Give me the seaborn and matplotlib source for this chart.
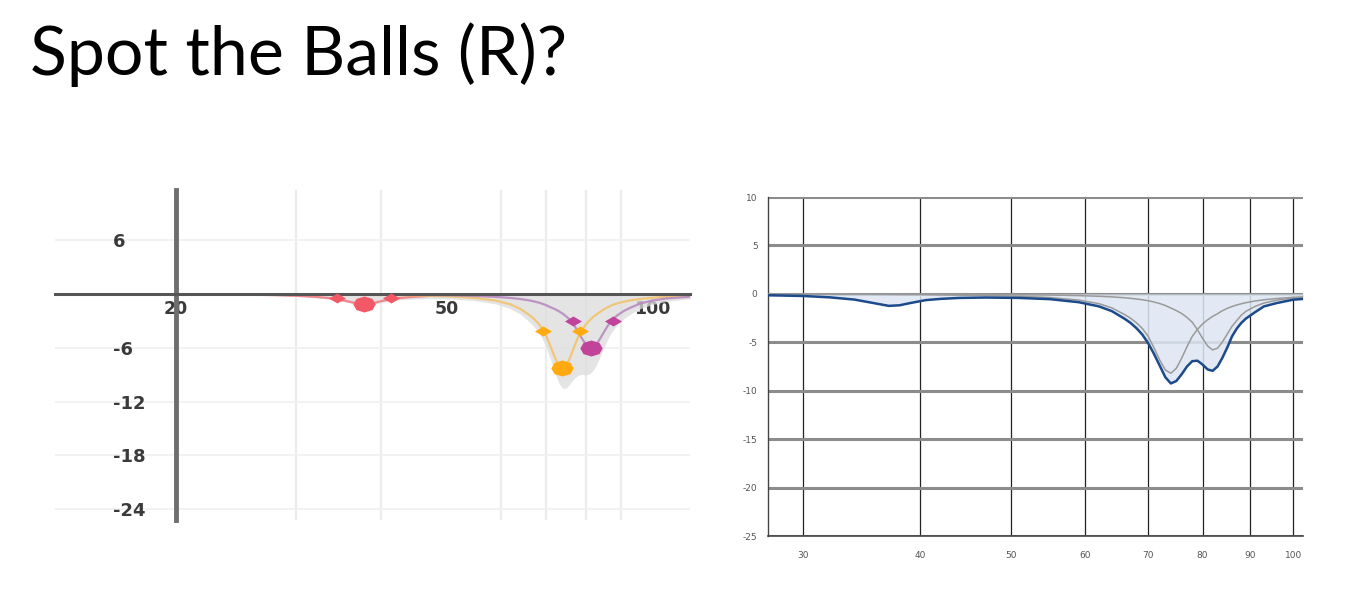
import matplotlib
matplotlib.use("Agg")
import matplotlib.pyplot as plt
from matplotlib.ticker import NullLocator, NullFormatter, FixedLocator
import seaborn as sns
import pandas as pd

# frequency grid shared by every curve
freq = [13, 18, 24, 28, 30, 32, 34, 35.5, 37, 38,
        39, 40.5, 42, 44, 47, 51, 55, 59, 62, 64,
        66, 67, 68, 69, 70, 71, 72, 73, 74, 75,
        76, 77, 78, 79, 80, 81, 82, 83, 84, 85,
        86, 87, 88, 89, 91, 93, 96, 100, 105, 115]

# left panel: three bands + their sum (gray shading)
left_red = [-0.01, -0.02, -0.05, -0.12, -0.19, -0.31, -0.50, -0.76, -1.06, -1.12,
            -1.00, -0.71, -0.50, -0.35, -0.21, -0.12, -0.08, -0.06, -0.05, -0.04,
            -0.04, -0.04, -0.04, -0.04, -0.04, -0.04, -0.04, -0.04, -0.04, -0.04,
            -0.03, -0.03, -0.03, -0.03, -0.03, -0.03, -0.03, -0.03, -0.03, -0.03,
            -0.03, -0.03, -0.03, -0.03, -0.02, -0.02, -0.02, -0.02, -0.02, -0.02]
left_orange = [-0.01, -0.02, -0.03, -0.04, -0.05, -0.06, -0.07, -0.07, -0.08, -0.09,
               -0.10, -0.11, -0.12, -0.15, -0.19, -0.28, -0.44, -0.73, -1.16, -1.63,
               -2.32, -2.72, -3.22, -3.83, -4.72, -5.88, -7.05, -7.98, -8.29, -7.84,
               -6.89, -5.76, -4.72, -3.92, -3.37, -2.92, -2.55, -2.25, -1.97, -1.71,
               -1.49, -1.31, -1.16, -1.04, -0.85, -0.70, -0.55, -0.42, -0.31, -0.20]
left_magenta = [-0.01, -0.02, -0.02, -0.03, -0.03, -0.04, -0.045, -0.05, -0.055, -0.06,
                -0.06, -0.07, -0.08, -0.09, -0.11, -0.15, -0.22, -0.32, -0.44, -0.55,
                -0.71, -0.81, -0.93, -1.08, -1.26, -1.48, -1.68, -1.92, -2.21, -2.56,
                -2.95, -3.58, -4.29, -5.01, -5.62, -5.96, -5.92, -5.53, -4.92, -4.25,
                -3.61, -3.05, -2.67, -2.36, -1.87, -1.52, -1.08, -0.73, -0.49, -0.28]
left_total = [-0.03, -0.06, -0.10, -0.19, -0.27, -0.41, -0.61, -0.88, -1.20, -1.27,
              -1.16, -0.89, -0.70, -0.59, -0.51, -0.55, -0.74, -1.11, -1.65, -2.22,
              -3.07, -3.57, -4.19, -4.95, -6.02, -7.40, -8.77, -9.94, -10.54, -10.44,
              -9.87, -9.37, -9.04, -8.96, -9.02, -8.91, -8.50, -7.81, -6.92, -5.99,
              -5.13, -4.39, -3.86, -3.43, -2.74, -2.24, -1.65, -1.17, -0.82, -0.50]

# left panel handles: (freq, gain) of the two half-gain points and the centre
red_pts = ([34.5, 41.4], [-0.48, -0.48], 37.8, -1.12)
orange_pts = ([69.3, 78.4], [-4.13, -4.13], 73.9, -8.29)
magenta_pts = ([76.5, 87.6], [-2.98, -2.98], 81.4, -5.99)

# right panel: two gray bands and the blue total
right_band1 = [-0.01, -0.02, -0.03, -0.04, -0.04, -0.05, -0.06, -0.06, -0.07, -0.08,
               -0.08, -0.09, -0.11, -0.13, -0.17, -0.25, -0.38, -0.64, -1.01, -1.44,
               -2.12, -2.50, -2.98, -3.57, -4.39, -5.57, -6.83, -7.85, -8.20, -7.69,
               -6.64, -5.45, -4.39, -3.67, -3.11, -2.68, -2.33, -2.05, -1.74, -1.50,
               -1.31, -1.15, -1.02, -0.91, -0.74, -0.61, -0.48, -0.36, -0.27, -0.17]
right_band2 = [-0.01, -0.01, -0.01, -0.02, -0.02, -0.02, -0.03, -0.03, -0.03, -0.03,
               -0.04, -0.04, -0.04, -0.05, -0.07, -0.09, -0.12, -0.18, -0.25, -0.31,
               -0.40, -0.46, -0.53, -0.61, -0.71, -0.84, -1.00, -1.20, -1.46, -1.72,
               -2.03, -2.43, -2.93, -3.70, -4.59, -5.38, -5.79, -5.61, -4.97, -4.15,
               -3.36, -2.76, -2.20, -1.80, -1.30, -0.95, -0.65, -0.42, -0.30, -0.18]
right_total = [-0.03, -0.05, -0.08, -0.16, -0.22, -0.36, -0.59, -0.92, -1.24, -1.18,
               -0.95, -0.65, -0.52, -0.42, -0.38, -0.42, -0.55, -0.86, -1.29, -1.78,
               -2.55, -2.99, -3.54, -4.21, -5.10, -6.20, -7.40, -8.60, -9.25, -9.00,
               -8.30, -7.50, -6.95, -6.90, -7.30, -7.80, -7.95, -7.50, -6.60, -5.55,
               -4.40, -3.60, -3.00, -2.55, -1.90, -1.30, -0.95, -0.60, -0.45, -0.35]

left_grid_x = [30, 40, 50, 60, 70, 80, 90, 100]
left_xticks = [20, 50, 100]
left_yticks = [6, -6, -12, -18, -24]
right_xticks = [30, 40, 50, 60, 70, 80, 90, 100]
right_yticks = [10, 5, 0, -5, -10, -15, -20, -25]

df = pd.DataFrame({'freq': freq, 'l_red': left_red, 'l_orange': left_orange,
                   'l_magenta': left_magenta, 'l_total': left_total,
                   'r_b1': right_band1, 'r_b2': right_band2, 'r_total': right_total})

sns.set_style('white')
plt.rcParams['font.family'] = ['DejaVu Sans']
plt.rcParams['axes.unicode_minus'] = False

fig = plt.figure(figsize=(13.49, 6.07), dpi=100)

fig.text(30 / 1349, 1 - 75 / 607, 'Spot the Balls (R)?', fontsize=49,
         family=['Lato', 'DejaVu Sans'], fontweight='normal',
         va='baseline', ha='left', color='black')

# ---------------- left panel ----------------
ax = fig.add_axes([55 / 1349, 1 - 520 / 607, 635 / 1349, 330 / 607])
ax.set_xscale('log')
ax.set_xlim(13.3, 113.7)
ax.set_ylim(-25.2, 11.6)

ax.fill_between(df['freq'], df['l_total'], 0, color='#dcdcdc', alpha=0.75, lw=0)

diamond = [(-1.7, 0), (0, 1), (1.7, 0), (0, -1), (-1.7, 0)]
ellipse_like = [(-1.4, 0), (-1.0, 0.7), (0, 1), (1.0, 0.7), (1.4, 0),
                (1.0, -0.7), (0, -1), (-1.0, -0.7), (-1.4, 0)]

bands = [('l_red', '#f47a84', '#f25865', red_pts),
         ('l_orange', '#f2c46e', '#ffaa10', orange_pts),
         ('l_magenta', '#b98ac0', '#c2449a', magenta_pts)]
for col, line_c, mark_c, pts in bands:
    sns.lineplot(data=df, x='freq', y=col, ax=ax, color=line_c, lw=1.6, alpha=0.9)
    sx, sy, cx, cy = pts
    ax.scatter(sx, sy, marker=diamond, s=150, color=mark_c, zorder=5, lw=0)
    ax.scatter([cx], [cy], marker=ellipse_like, s=260, color=mark_c, zorder=5, lw=0)

ax.spines['top'].set_visible(False)
ax.spines['right'].set_visible(False)
ax.spines['left'].set_position(('data', 20))
ax.spines['bottom'].set_position(('data', 0))
ax.spines['left'].set_color('#6e6e6e')
ax.spines['left'].set_linewidth(3.5)
ax.spines['bottom'].set_color('#555555')
ax.spines['bottom'].set_linewidth(2.2)

ax.set_yticks(left_yticks)
ax.set_yticklabels([str(v) for v in left_yticks])
ax.set_xticks(left_xticks)
ax.set_xticklabels([str(v) for v in left_xticks])
ax.xaxis.set_minor_locator(FixedLocator(left_grid_x))
ax.xaxis.set_minor_formatter(NullFormatter())
ax.yaxis.set_minor_locator(NullLocator())
ax.tick_params(axis='y', direction='inout', length=18, width=1.5, color='#555555',
               labelsize=13, labelcolor='#3a3a3a', pad=36)
ax.tick_params(axis='x', which='major', direction='inout', length=10, width=1.5,
               color='#555555', labelsize=12.5, labelcolor='#3a3a3a', pad=-1)
ax.tick_params(axis='x', which='minor', length=0)
for lab in ax.get_yticklabels():
    lab.set_horizontalalignment('left')
    lab.set_fontweight('bold')
for lab in ax.get_xticklabels():
    lab.set_fontweight('bold')
ax.grid(axis='x', which='minor', color='#ececec', lw=1.6)
ax.grid(axis='y', which='major', color='#f0f0f0', lw=1.2)
ax.grid(axis='x', which='major', visible=False)
ax.set_xlabel('')
ax.set_ylabel('')
ax.set_facecolor('white')

# ---------------- right panel ----------------
ax2 = fig.add_axes([768 / 1349, 1 - 536 / 607, 535 / 1349, 339 / 607])
ax2.set_xscale('log')
ax2.set_xlim(27.5, 102.4)
ax2.set_ylim(-25, 10)

ax2.fill_between(df['freq'], df['r_total'], 0, color='#dde6f3', alpha=0.85, lw=0, zorder=2)
sns.lineplot(data=df, x='freq', y='r_b1', ax=ax2, color='#9a9a9a', lw=1.1, zorder=3)
sns.lineplot(data=df, x='freq', y='r_b2', ax=ax2, color='#9a9a9a', lw=1.1, zorder=3)
sns.lineplot(data=df, x='freq', y='r_total', ax=ax2, color='#1d4a8a', lw=1.8, zorder=4)

ax2.set_xticks(right_xticks)
ax2.set_xticklabels([str(v) for v in right_xticks])
ax2.xaxis.set_minor_locator(NullLocator())
ax2.set_yticks(right_yticks)
ax2.set_yticklabels([str(v) for v in right_yticks])
ax2.tick_params(axis='both', labelsize=6.5, labelcolor='#555555', color='#555555',
                length=4, width=0.8)
ax2.tick_params(axis='x', pad=7)
ax2.grid(axis='x', color='#222222', lw=0.9, zorder=1)
ax2.grid(axis='y', color='#8c8c8c', lw=2.2, zorder=1)
ax2.set_axisbelow(True)
for side in ['top', 'right']:
    ax2.spines[side].set_visible(False)
ax2.spines['left'].set_color('#444444')
ax2.spines['bottom'].set_color('#444444')
ax2.spines['left'].set_linewidth(1.0)
ax2.spines['bottom'].set_linewidth(1.2)
ax2.set_xlabel('')
ax2.set_ylabel('')

fig.savefig('out.png', dpi=100)
